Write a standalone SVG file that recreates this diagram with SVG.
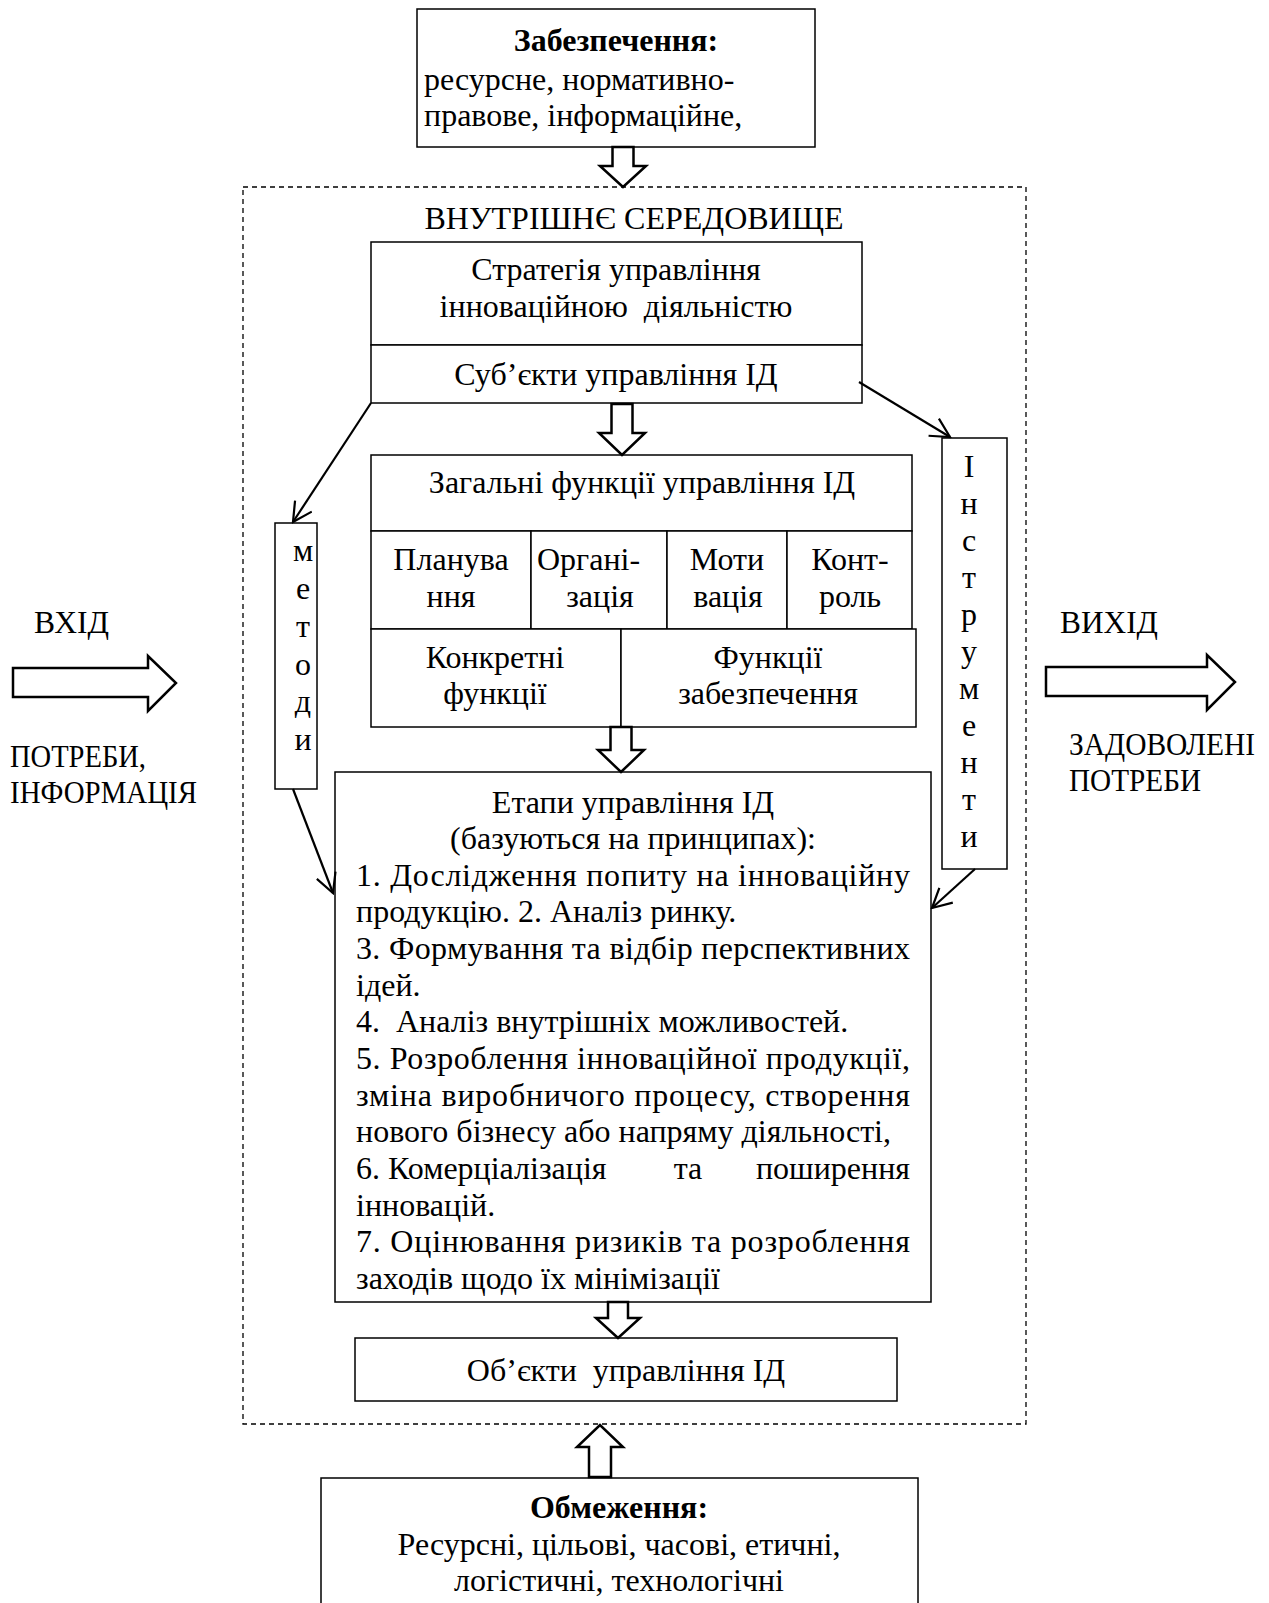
<svg xmlns="http://www.w3.org/2000/svg" width="1269" height="1603" viewBox="0 0 1269 1603">
<style>
text{font-family:"Liberation Serif","Times New Roman",serif;font-size:32px;fill:#000}
.c{text-anchor:middle}
.e{text-anchor:end}
.b{font-weight:bold}
.box{fill:#fff;stroke:#000;stroke-width:1.5}
.blk{fill:#fff;stroke:#000;stroke-width:2.5;stroke-linejoin:miter}
.con{fill:none;stroke:#000;stroke-width:2.2}
</style>
<defs>
<marker id="ah" viewBox="0 0 22 22" refX="20" refY="11" markerWidth="22" markerHeight="22" markerUnits="userSpaceOnUse" orient="auto">
<path d="M1,1 L20,11 L1,21" fill="none" stroke="#000" stroke-width="2.2"/>
</marker>
</defs>
<rect width="1269" height="1603" fill="#fff"/>

<g id="env">
<rect x="243" y="187" width="783" height="1237" fill="none" stroke="#000" stroke-width="1.3" stroke-dasharray="5,4"/>
<text class="c" x="634" y="229">ВНУТРІШНЄ СЕРЕДОВИЩЕ</text>
</g>

<g id="supply">
<rect class="box" x="417" y="9" width="398" height="138"/>
<text class="c b" x="616" y="51">Забезпечення:</text>
<text x="424" y="90">ресурсне, нормативно-</text>
<text x="424" y="126">правове, інформаційне,</text>
</g>

<g id="strategy">
<rect class="box" x="371" y="242" width="491" height="103"/>
<text class="c" x="616" y="280">Стратегія управління</text>
<text class="c" x="616" y="317" xml:space="preserve">інноваційною  діяльністю</text>
</g>

<g id="subjects">
<rect class="box" x="371" y="345" width="491" height="58"/>
<text class="c" x="616" y="385">Суб’єкти управління ІД</text>
</g>

<g id="functions">
<rect class="box" x="371" y="455" width="541" height="76"/>
<text class="c" x="642" y="493">Загальні функції управління ІД</text>
<rect class="box" x="371" y="531" width="160" height="98"/>
<rect class="box" x="531" y="531" width="136" height="98"/>
<rect class="box" x="667" y="531" width="120" height="98"/>
<rect class="box" x="787" y="531" width="125" height="98"/>
<text class="c" x="451" y="570">Планува</text>
<text class="c" x="451" y="607">ння</text>
<text x="537" y="570">Органі-</text>
<text class="c" x="600" y="607">зація</text>
<text class="c" x="727" y="570">Моти</text>
<text class="c" x="728" y="607">вація</text>
<text class="c" x="850" y="570">Конт-</text>
<text class="c" x="850" y="607">роль</text>
<rect class="box" x="371" y="629" width="250" height="98"/>
<rect class="box" x="621" y="629" width="295" height="98"/>
<text class="c" x="495" y="668">Конкретні</text>
<text class="c" x="495" y="704">функції</text>
<text class="c" x="768" y="668">Функції</text>
<text class="c" x="768" y="704">забезпечення</text>
</g>

<g id="methods">
<rect class="box" x="275" y="523" width="42" height="266"/>
<text class="c" x="303" y="561">м</text>
<text class="c" x="303" y="599">е</text>
<text class="c" x="303" y="637">т</text>
<text class="c" x="303" y="675">о</text>
<text class="c" x="303" y="712">д</text>
<text class="c" x="303" y="750">и</text>
</g>

<g id="tools">
<rect class="box" x="942" y="438" width="65" height="431"/>
<text class="c" x="969" y="477">І</text>
<text class="c" x="969" y="514">н</text>
<text class="c" x="969" y="551">с</text>
<text class="c" x="969" y="588">т</text>
<text class="c" x="969" y="625">р</text>
<text class="c" x="969" y="662">у</text>
<text class="c" x="969" y="699">м</text>
<text class="c" x="969" y="736">е</text>
<text class="c" x="969" y="773">н</text>
<text class="c" x="969" y="810">т</text>
<text class="c" x="969" y="847">и</text>
</g>

<g id="stages">
<rect class="box" x="335" y="772" width="596" height="530"/>
<text class="c" x="633" y="813">Етапи управління ІД</text>
<text class="c" x="633" y="849">(базуються на принципах):</text>
<text x="356" y="886" textLength="554" lengthAdjust="spacing">1. Дослідження попиту на інноваційну</text>
<text x="356" y="922">продукцію. 2. Аналіз ринку.</text>
<text x="356" y="959" textLength="554" lengthAdjust="spacing">3. Формування та відбір перспективних</text>
<text x="356" y="996">ідей.</text>
<text x="356" y="1032" xml:space="preserve">4.  Аналіз внутрішніх можливостей.</text>
<text x="356" y="1069" textLength="554" lengthAdjust="spacing">5. Розроблення інноваційної продукції,</text>
<text x="356" y="1106" textLength="554" lengthAdjust="spacing">зміна виробничого процесу, створення</text>
<text x="356" y="1142">нового бізнесу або напряму діяльності,</text>
<text x="356" y="1179">6. Комерціалізація</text>
<text class="c" x="688" y="1179">та</text>
<text class="e" x="910" y="1179">поширення</text>
<text x="356" y="1216">інновацій.</text>
<text x="356" y="1252" textLength="554" lengthAdjust="spacing">7. Оцінювання ризиків та розроблення</text>
<text x="356" y="1289">заходів щодо їх мінімізації</text>
</g>

<g id="objects">
<rect class="box" x="355" y="1338" width="542" height="63"/>
<text class="c" x="626" y="1381" xml:space="preserve">Об’єкти  управління ІД</text>
</g>

<g id="limits">
<rect class="box" x="321" y="1478" width="597" height="140"/>
<text class="c b" x="619" y="1518">Обмеження:</text>
<text class="c" x="619" y="1555">Ресурсні, цільові, часові, етичні,</text>
<text class="c" x="619" y="1591">логістичні, технологічні</text>
</g>

<g id="input">
<text x="34" y="633" textLength="75" lengthAdjust="spacingAndGlyphs">ВХІД</text>
<text x="10" y="767" textLength="136" lengthAdjust="spacingAndGlyphs">ПОТРЕБИ,</text>
<text x="10" y="803" textLength="187" lengthAdjust="spacingAndGlyphs">ІНФОРМАЦІЯ</text>
</g>

<g id="output">
<text x="1060" y="633" textLength="98" lengthAdjust="spacingAndGlyphs">ВИХІД</text>
<text x="1069" y="755" textLength="186" lengthAdjust="spacingAndGlyphs">ЗАДОВОЛЕНІ</text>
<text x="1069" y="791" textLength="132" lengthAdjust="spacingAndGlyphs">ПОТРЕБИ</text>
</g>

<g id="connectors">
<path class="blk" d="M612.5,147 L633.5,147 L633.5,166 L646,166 L623,187 L600,166 L612.5,166 Z"/>
<path class="blk" d="M611.5,404 L632.5,404 L632.5,433 L645,433 L622,455 L599,433 L611.5,433 Z"/>
<path class="blk" d="M610.5,727 L631.5,727 L631.5,750 L644,750 L621,772 L598,750 L610.5,750 Z"/>
<path class="blk" d="M608,1302 L628,1302 L628,1318 L640,1318 L618,1338 L596,1318 L608,1318 Z"/>
<path class="blk" d="M589,1477 L611,1477 L611,1447 L623,1447 L600,1425 L577,1447 L589,1447 Z"/>
<path class="blk" stroke-width="3" d="M13,668 L148,668 L148,656 L176,683 L148,711 L148,697 L13,697 Z"/>
<path class="blk" stroke-width="3" d="M1046,667 L1207,667 L1207,655 L1235,682 L1207,710 L1207,696 L1046,696 Z"/>
<line class="con" x1="371" y1="403" x2="293" y2="522" marker-end="url(#ah)"/>
<line class="con" x1="293" y1="789" x2="333" y2="893" marker-end="url(#ah)"/>
<line class="con" x1="859" y1="382" x2="950" y2="437" marker-end="url(#ah)"/>
<line class="con" x1="975" y1="869" x2="932" y2="908" marker-end="url(#ah)"/>
</g>
</svg>
